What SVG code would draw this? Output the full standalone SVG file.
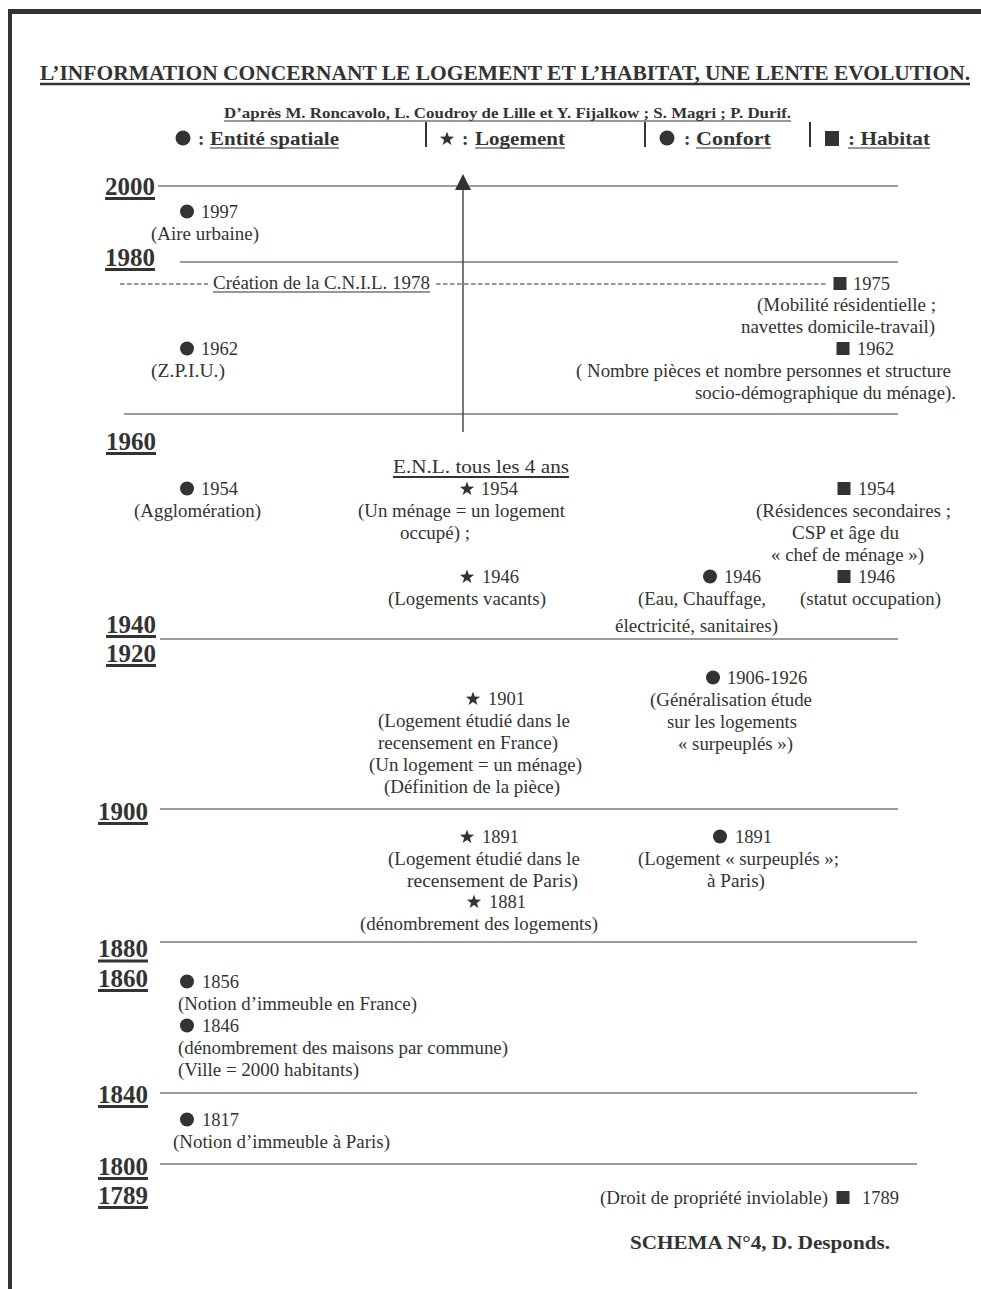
<svg xmlns="http://www.w3.org/2000/svg" width="981" height="1289" viewBox="0 0 981 1289">
<style>
text{font-family:"Liberation Serif","Times New Roman",serif;fill:#333}
.t{font-size:18.5px}
.b{font-weight:bold}
.yr{font-size:25px;font-weight:bold}
.tl{stroke:#7a7a7a;stroke-width:1.5;fill:none}
.ul{stroke:#333;stroke-width:1.2}
.uy{stroke:#333;stroke-width:3}
.dot{fill:#333}
</style>
<defs>
<path id="star" d="M0,-7.5 L1.76,-2.43 L7.13,-2.32 L2.85,0.93 L4.41,6.07 L0,3 L-4.41,6.07 L-2.85,0.93 L-7.13,-2.32 L-1.76,-2.43 Z" fill="#333"/>
<rect id="sq" x="-6.5" y="-6.5" width="13" height="13" fill="#333"/>
<marker id="ah" markerWidth="16" markerHeight="16" refX="2" refY="8" orient="auto" markerUnits="userSpaceOnUse" viewBox="0 0 16 16">
<path d="M0,0 L16,8 L0,16 Z" fill="#333"/>
</marker>
</defs>
<rect width="981" height="1289" fill="#fff"/>
<!-- page border -->
<g id="border">
<rect x="8" y="9" width="973" height="5" fill="#333"/>
<rect x="8" y="9" width="4" height="1280" fill="#333"/>
</g>
<!-- header -->
<g id="title">
<text x="40" y="80" class="b" font-size="20" textLength="930" lengthAdjust="spacingAndGlyphs">L’INFORMATION CONCERNANT LE LOGEMENT ET L’HABITAT, UNE LENTE  EVOLUTION.</text>
<line x1="40" y1="84" x2="970" y2="84" stroke="#333" stroke-width="2.5"/>
<text x="224" y="118" class="b" font-size="15" textLength="567" lengthAdjust="spacingAndGlyphs">D’après M. Roncavolo, L. Coudroy de Lille et Y. Fijalkow ; S. Magri ; P. Durif.</text>
<line x1="224" y1="121" x2="791" y2="121" class="ul"/>
</g>
<g id="legend">
<circle cx="183" cy="138" r="7.5" class="dot"/>
<text x="198" y="145" class="b" font-size="19">:</text>
<text x="210" y="145" class="b" font-size="19" textLength="129" lengthAdjust="spacingAndGlyphs">Entité spatiale</text>
<line x1="210" y1="148" x2="339" y2="148" class="ul" stroke-width="1.6"/>
<line x1="426" y1="122" x2="426" y2="147" stroke="#333" stroke-width="2"/>
<use href="#star" x="447" y="139"/>
<text x="462" y="145" class="b" font-size="19">:</text>
<text x="475" y="145" class="b" font-size="19" textLength="90" lengthAdjust="spacingAndGlyphs">Logement</text>
<line x1="475" y1="148" x2="565" y2="148" class="ul" stroke-width="1.6"/>
<line x1="645" y1="122" x2="645" y2="147" stroke="#333" stroke-width="2"/>
<circle cx="667" cy="138" r="7.5" class="dot"/>
<text x="684" y="145" class="b" font-size="19">:</text>
<text x="696" y="145" class="b" font-size="19" textLength="75" lengthAdjust="spacingAndGlyphs">Confort</text>
<line x1="696" y1="148" x2="771" y2="148" class="ul" stroke-width="1.6"/>
<line x1="810" y1="122" x2="810" y2="147" stroke="#333" stroke-width="2"/>
<rect x="825" y="131" width="14" height="15" fill="#333"/>
<text x="848" y="145" class="b" font-size="19" textLength="82" lengthAdjust="spacingAndGlyphs">: Habitat</text>
<line x1="848" y1="148" x2="930" y2="148" class="ul" stroke-width="1.6"/>
</g>
<!-- year scale -->
<g id="years">
<text x="105" y="195" class="yr" textLength="50" lengthAdjust="spacingAndGlyphs">2000</text>
<line x1="105" y1="198.5" x2="155" y2="198.5" class="uy"/>
<text x="105" y="266" class="yr" textLength="50" lengthAdjust="spacingAndGlyphs">1980</text>
<line x1="105" y1="269.5" x2="155" y2="269.5" class="uy"/>
<text x="106" y="450" class="yr" textLength="50" lengthAdjust="spacingAndGlyphs">1960</text>
<line x1="106" y1="453.5" x2="156" y2="453.5" class="uy"/>
<text x="106" y="633" class="yr" textLength="50" lengthAdjust="spacingAndGlyphs">1940</text>
<line x1="106" y1="636.5" x2="156" y2="636.5" class="uy"/>
<text x="106" y="662" class="yr" textLength="50" lengthAdjust="spacingAndGlyphs">1920</text>
<line x1="106" y1="665.5" x2="156" y2="665.5" class="uy"/>
<text x="98" y="820" class="yr" textLength="50" lengthAdjust="spacingAndGlyphs">1900</text>
<line x1="98" y1="823.5" x2="148" y2="823.5" class="uy"/>
<text x="98" y="957" class="yr" textLength="50" lengthAdjust="spacingAndGlyphs">1880</text>
<line x1="98" y1="961" x2="148" y2="961" class="uy"/>
<text x="98" y="987" class="yr" textLength="50" lengthAdjust="spacingAndGlyphs">1860</text>
<line x1="98" y1="990.5" x2="148" y2="990.5" class="uy"/>
<text x="98" y="1103" class="yr" textLength="50" lengthAdjust="spacingAndGlyphs">1840</text>
<line x1="98" y1="1106.5" x2="148" y2="1106.5" class="uy"/>
<text x="98" y="1175" class="yr" textLength="50" lengthAdjust="spacingAndGlyphs">1800</text>
<line x1="98" y1="1178.5" x2="148" y2="1178.5" class="uy"/>
<text x="98" y="1204" class="yr" textLength="50" lengthAdjust="spacingAndGlyphs">1789</text>
<line x1="98" y1="1207.5" x2="148" y2="1207.5" class="uy"/>
</g>
<!-- connectors / timeline lines -->
<g id="connectors">
<line x1="158" y1="186" x2="898" y2="186" class="tl"/>
<line x1="180" y1="262" x2="898" y2="262" class="tl"/>
<line x1="124" y1="414" x2="898" y2="414" class="tl" stroke="#444"/>
<line x1="160" y1="639" x2="898" y2="639" class="tl"/>
<line x1="160" y1="809" x2="898" y2="809" class="tl"/>
<line x1="160" y1="942" x2="917" y2="942" class="tl"/>
<line x1="160" y1="1093" x2="917" y2="1093" class="tl" stroke="#444"/>
<line x1="160" y1="1164" x2="917" y2="1164" class="tl" stroke="#444"/>
<line x1="120" y1="284" x2="208" y2="284" stroke="#333" stroke-width="1.2" stroke-dasharray="4.5,2.5"/>
<line x1="436" y1="284" x2="826" y2="284" stroke="#333" stroke-width="1.2" stroke-dasharray="4.5,2.5"/>
<line x1="463" y1="432" x2="463" y2="188" stroke="#333" stroke-width="1.3" marker-end="url(#ah)"/>
</g>
<g id="cnil">
<text x="213" y="289" class="t" textLength="217" lengthAdjust="spacingAndGlyphs">Création de la C.N.I.L. 1978</text>
<line x1="213" y1="292" x2="430" y2="292" class="ul"/>
</g>
<!-- entries -->
<g id="n1997">
<circle cx="187" cy="211.5" r="7" class="dot"/>
<text x="201" y="218" class="t">1997</text>
<text x="151" y="240" class="t" textLength="108" lengthAdjust="spacingAndGlyphs">(Aire urbaine)</text>
</g>
<g id="n1962a">
<circle cx="187" cy="348.5" r="7" class="dot"/>
<text x="201" y="355" class="t">1962</text>
<text x="151" y="377" class="t" textLength="74" lengthAdjust="spacingAndGlyphs">(Z.P.I.U.)</text>
</g>
<g id="n1975">
<use href="#sq" x="840" y="283.5"/>
<text x="853" y="290" class="t">1975</text>
<text x="757" y="311" class="t" textLength="179" lengthAdjust="spacingAndGlyphs">(Mobilité résidentielle ;</text>
<text x="741" y="333" class="t" textLength="194" lengthAdjust="spacingAndGlyphs">navettes domicile-travail)</text>
</g>
<g id="n1962b">
<use href="#sq" x="843" y="348.5"/>
<text x="857" y="355" class="t">1962</text>
<text x="576" y="377" class="t" textLength="375" lengthAdjust="spacingAndGlyphs">( Nombre pièces et nombre personnes et structure</text>
<text x="695" y="399" class="t" textLength="261" lengthAdjust="spacingAndGlyphs">socio-démographique du ménage).</text>
</g>
<g id="enl">
<text x="393" y="473" class="t" textLength="176" lengthAdjust="spacingAndGlyphs">E.N.L. tous les 4 ans</text>
<line x1="393" y1="477" x2="569" y2="477" stroke="#333" stroke-width="2"/>
</g>
<g id="n1954a">
<circle cx="187" cy="488.5" r="7" class="dot"/>
<text x="201" y="495" class="t">1954</text>
<text x="134" y="517" class="t" textLength="127" lengthAdjust="spacingAndGlyphs">(Agglomération)</text>
</g>
<g id="n1954b">
<use href="#star" x="467" y="489"/>
<text x="481" y="495" class="t">1954</text>
<text x="358" y="517" class="t" textLength="207" lengthAdjust="spacingAndGlyphs">(Un ménage = un logement</text>
<text x="400" y="539" class="t" textLength="70" lengthAdjust="spacingAndGlyphs">occupé) ;</text>
</g>
<g id="n1954c">
<use href="#sq" x="844" y="488.5"/>
<text x="858" y="495" class="t">1954</text>
<text x="756" y="517" class="t" textLength="195" lengthAdjust="spacingAndGlyphs">(Résidences secondaires ;</text>
<text x="792" y="539" class="t" textLength="107" lengthAdjust="spacingAndGlyphs">CSP et âge du</text>
<text x="771" y="561" class="t" textLength="153" lengthAdjust="spacingAndGlyphs">« chef de ménage »)</text>
</g>
<g id="n1946a">
<use href="#star" x="467" y="577"/>
<text x="482" y="583" class="t">1946</text>
<text x="388" y="605" class="t" textLength="158" lengthAdjust="spacingAndGlyphs">(Logements vacants)</text>
</g>
<g id="n1946b">
<circle cx="710" cy="576.5" r="7" class="dot"/>
<text x="724" y="583" class="t">1946</text>
<text x="638" y="605" class="t" textLength="128" lengthAdjust="spacingAndGlyphs">(Eau, Chauffage,</text>
<text x="615" y="632" class="t" textLength="163" lengthAdjust="spacingAndGlyphs">électricité, sanitaires)</text>
</g>
<g id="n1946c">
<use href="#sq" x="844" y="576.5"/>
<text x="858" y="583" class="t">1946</text>
<text x="800" y="605" class="t" textLength="141" lengthAdjust="spacingAndGlyphs">(statut occupation)</text>
</g>
<g id="n1906">
<circle cx="713" cy="677.5" r="7" class="dot"/>
<text x="727" y="684" class="t">1906-1926</text>
<text x="650" y="706" class="t" textLength="162" lengthAdjust="spacingAndGlyphs">(Généralisation étude</text>
<text x="667" y="728" class="t" textLength="130" lengthAdjust="spacingAndGlyphs">sur les logements</text>
<text x="678" y="750" class="t" textLength="115" lengthAdjust="spacingAndGlyphs">« surpeuplés »)</text>
</g>
<g id="n1901">
<use href="#star" x="473" y="699"/>
<text x="488" y="705" class="t">1901</text>
<text x="378" y="727" class="t" textLength="192" lengthAdjust="spacingAndGlyphs">(Logement étudié dans le</text>
<text x="378" y="749" class="t" textLength="180" lengthAdjust="spacingAndGlyphs">recensement en France)</text>
<text x="369" y="771" class="t" textLength="213" lengthAdjust="spacingAndGlyphs">(Un logement = un ménage)</text>
<text x="384" y="793" class="t" textLength="176" lengthAdjust="spacingAndGlyphs">(Définition de la pièce)</text>
</g>
<g id="n1891a">
<use href="#star" x="467" y="837"/>
<text x="482" y="843" class="t">1891</text>
<text x="388" y="865" class="t" textLength="192" lengthAdjust="spacingAndGlyphs">(Logement étudié dans le</text>
<text x="407" y="887" class="t" textLength="171" lengthAdjust="spacingAndGlyphs">recensement  de Paris)</text>
</g>
<g id="n1881">
<use href="#star" x="474" y="902"/>
<text x="489" y="908" class="t">1881</text>
<text x="360" y="930" class="t" textLength="238" lengthAdjust="spacingAndGlyphs">(dénombrement des logements)</text>
</g>
<g id="n1891b">
<circle cx="720" cy="836.5" r="7" class="dot"/>
<text x="735" y="843" class="t">1891</text>
<text x="638" y="865" class="t" textLength="201" lengthAdjust="spacingAndGlyphs">(Logement « surpeuplés »;</text>
<text x="707" y="887" class="t" textLength="58" lengthAdjust="spacingAndGlyphs">à Paris)</text>
</g>
<g id="n1856">
<circle cx="187" cy="981.5" r="7" class="dot"/>
<text x="202" y="988" class="t">1856</text>
<text x="178" y="1010" class="t" textLength="239" lengthAdjust="spacingAndGlyphs">(Notion d’immeuble en France)</text>
</g>
<g id="n1846">
<circle cx="187" cy="1025.5" r="7" class="dot"/>
<text x="202" y="1032" class="t">1846</text>
<text x="178" y="1054" class="t" textLength="330" lengthAdjust="spacingAndGlyphs">(dénombrement des maisons par commune)</text>
<text x="178" y="1076" class="t" textLength="181" lengthAdjust="spacingAndGlyphs">(Ville = 2000 habitants)</text>
</g>
<g id="n1817">
<circle cx="187" cy="1119.5" r="7" class="dot"/>
<text x="202" y="1126" class="t">1817</text>
<text x="173" y="1148" class="t" textLength="217" lengthAdjust="spacingAndGlyphs">(Notion d’immeuble à Paris)</text>
</g>
<g id="n1789">
<text x="600" y="1204" class="t" textLength="228" lengthAdjust="spacingAndGlyphs">(Droit de propriété inviolable)</text>
<use href="#sq" x="843" y="1197.5"/>
<text x="862" y="1204" class="t">1789</text>
</g>
<g id="credit">
<text x="630" y="1249" class="b" font-size="19" textLength="260" lengthAdjust="spacingAndGlyphs">SCHEMA N°4, D. Desponds.</text>
</g>
</svg>
